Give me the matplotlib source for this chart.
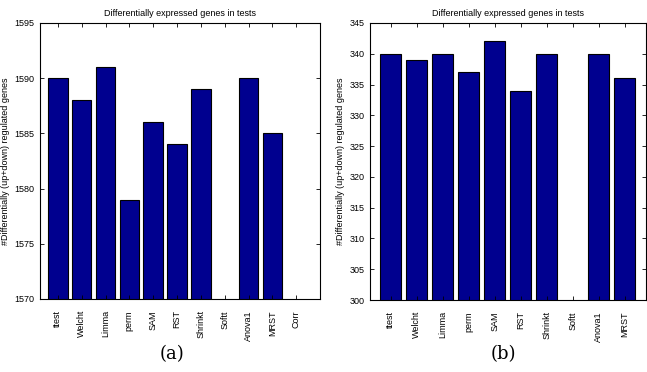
import matplotlib
matplotlib.use("Agg")
import matplotlib.pyplot as plt
import numpy as np

cats_a = ["ttest", "Welcht", "Limma", "perm", "SAM", "RST", "Shrinkt", "Softt", "Anova1", "MRST", "Corr"]
vals_a = [1590, 1588, 1591, 1579, 1586, 1584, 1589, 0, 1590, 1585, 0]
cats_b = ["ttest", "Welcht", "Limma", "perm", "SAM", "RST", "Shrinkt", "Softt", "Anova1", "MRST"]
vals_b = [340, 339, 340, 337, 342, 334, 340, 0, 340, 336]
yticks_a = [1570, 1575, 1580, 1585, 1590, 1595]
yticks_b = [300, 305, 310, 315, 320, 325, 330, 335, 340, 345]

W, H = 647, 372
fig = plt.figure(figsize=(W / 100, H / 100), dpi=100)
plt.rcParams['font.family'] = ['Liberation Sans', 'DejaVu Sans']

def panel(rect, cats, vals, yticks, xlim, caption, capx):
    l, t, r, b = rect
    ax = fig.add_axes([l / W, 1 - b / H, (r - l) / W, (b - t) / H])
    x = np.arange(1, len(cats) + 1)
    ax.bar(x, vals, width=0.82, color="#00008F", edgecolor="black", linewidth=0.8)
    ax.set_xlim(*xlim)
    ax.set_ylim(yticks[0], yticks[-1])
    ax.set_yticks(yticks)
    ax.set_xticks(x)
    ax.set_xticklabels(cats, rotation=90, fontsize=6.5)
    ax.tick_params(axis="y", labelsize=6.5)
    ax.tick_params(direction="in", top=True, right=True, length=3, width=0.6, pad=4)
    ax.tick_params(axis="x", pad=8)
    for s in ax.spines.values():
        s.set_linewidth(0.8)
    ax.set_title("Differentially expressed genes in tests", fontsize=6.5, pad=5)
    ax.set_ylabel("#Differentially (up+down) regulated genes", fontsize=6.5, labelpad=3)
    fig.text(capx / W, 1 - 354 / H, caption, ha="center", va="center",
             fontsize=13, family="DejaVu Serif")
    return ax

panel((40, 23, 320, 299), cats_a, vals_a, yticks_a, (0.25, 12.0), "(a)", 172)
panel((370, 23, 646, 300), cats_b, vals_b, yticks_b, (0.2, 10.82), "(b)", 503)

fig.savefig("out.png", dpi=100)
